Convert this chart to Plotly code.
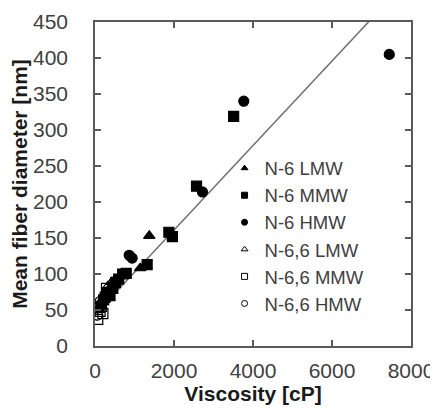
import plotly.graph_objects as go

# Data (viscosity [cP], mean fiber diameter [nm])
n6_lmw_x = [1375, 1145, 420, 300]
n6_lmw_y = [153, 108, 78, 68]

n6_mmw_x = [3510, 2570, 1870, 1960, 1320, 790, 700, 600, 520, 450, 380, 320, 260, 220]
n6_mmw_y = [319, 222, 158, 152, 113, 101, 100, 93, 88, 80, 70, 74, 68, 64]

n6_hmw_x = [7450, 3766, 2720, 865, 940, 480, 350, 200, 150]
n6_hmw_y = [405, 340, 214, 126, 122, 85, 76, 62, 56]

n66_lmw_x = [330, 430, 160, 100]
n66_lmw_y = [83, 89, 56, 50]

n66_mmw_x = [70, 130, 200, 160, 290]
n66_mmw_y = [37, 48, 45, 55, 80]

n66_hmw_x = [130, 100, 250, 60]
n66_hmw_y = [62, 55, 70, 43]

fit_slope = 0.0587
fit_intercept = 43.6
fit_x = [0, 8000]

x_ticks = [0, 2000, 4000, 6000, 8000]
y_ticks = [0, 50, 100, 150, 200, 250, 300, 350, 400, 450]

series = [
    ("N-6 LMW", n6_lmw_x, n6_lmw_y, "triangle-up"),
    ("N-6 MMW", n6_mmw_x, n6_mmw_y, "square"),
    ("N-6 HMW", n6_hmw_x, n6_hmw_y, "circle"),
    ("N-6,6 LMW", n66_lmw_x, n66_lmw_y, "triangle-up-open"),
    ("N-6,6 MMW", n66_mmw_x, n66_mmw_y, "square-open"),
    ("N-6,6 HMW", n66_hmw_x, n66_hmw_y, "circle-open"),
]

fig = go.Figure()

fig.add_trace(go.Scatter(
    x=fit_x, y=[fit_slope * v + fit_intercept for v in fit_x],
    mode="lines", line=dict(color="#6e6e6e", width=1.5),
    showlegend=False, hoverinfo="skip"))

for name, xs, ys, sym in series:
    fig.add_trace(go.Scatter(
        x=xs, y=ys, mode="markers", name=name, showlegend=False,
        marker=dict(symbol=sym, size=10, color="black",
                    line=dict(color="black", width=1.2))))

# legend entries with smaller symbols
for name, xs, ys, sym in series:
    fig.add_trace(go.Scatter(
        x=[None], y=[None], mode="markers", name=name,
        marker=dict(symbol=sym, size=6, color="black",
                    line=dict(color="black", width=1))))

axis_common = dict(
    showline=True, linecolor="#5a5a5a", linewidth=1.5, mirror="ticks",
    ticks="inside", ticklen=6, tickwidth=1.5, tickcolor="#5a5a5a",
    showgrid=False, zeroline=False, automargin=False,
    tickfont=dict(family="Liberation Sans, Arial", size=21, color="#404040"),
)

# page body adds an 8px offset; figure size/margins compensate for it
fig.update_layout(
    width=430, height=400,
    margin=dict(l=87, r=27, t=14, b=62),
    paper_bgcolor="white", plot_bgcolor="white",
    xaxis=dict(range=[0, 8000], tickvals=x_ticks, ticklabelstandoff=5,
               title=dict(text="<b>Viscosity [cP]</b>", standoff=0,
                          font=dict(family="Liberation Sans, Arial", size=21, color="#1a1a1a")),
               **axis_common),
    yaxis=dict(range=[0, 450], tickvals=y_ticks, ticklabelstandoff=21,
               title=dict(text="<b>Mean fiber diameter [nm]</b>", standoff=0,
                          font=dict(family="Liberation Sans, Arial", size=21, color="#1a1a1a")),
               **axis_common),
    legend=dict(x=0.41, y=0.606, xanchor="left", yanchor="top",
                bgcolor="rgba(0,0,0,0)", itemwidth=30,
                font=dict(family="Liberation Sans, Arial", size=18.5, color="#404040")),
)

fig.write_html("out.html")
